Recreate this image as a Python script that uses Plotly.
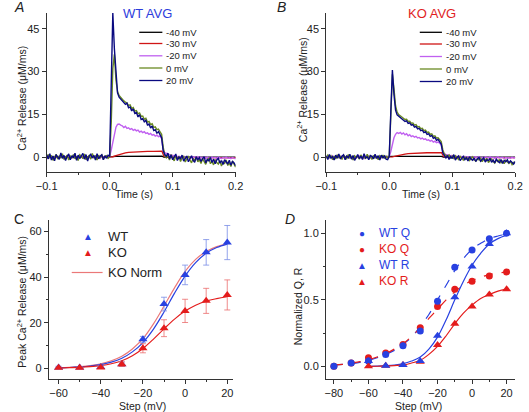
import numpy as np
import plotly.graph_objects as go

W, H = 529, 412
FONT = "Liberation Sans, Arial, sans-serif"

# ---------------- Data: panels A & B (release traces) ----------------
# dense time grid for noisy traces (s)
t_noisy = np.round(np.arange(121) * 0.0025 - 0.1, 4)
# coarse time grids for smooth traces
t_red = [-0.1, -0.05, 0, 0.005, 0.01, 0.015, 0.02, 0.025, 0.03, 0.04, 0.05, 0.06, 0.07, 0.08, 0.083, 0.086, 0.09, 0.1, 0.15, 0.2]
t_black = [-0.1, 0, 0.005, 0.01, 0.04, 0.08, 0.083, 0.086, 0.2]

wt_m40 = [0, 0, 0.2, 0.3, 0.35, 0.35, 0.35, 0.0, 0.0]
wt_m30 = [0, 0, 0, 0.15, 0.5, 0.9, 1.25, 1.5, 1.7, 1.9, 2.0, 2.05, 2.05, 2.1, 2.1, 0.4, 0.1, -0.1, -0.2, -0.25]
wt_m20 = [0.3, -0.4, 0.5, -0.2, 0.1, -0.5, 0.4, 0.0, -0.3, 0.6, -0.1, 0.3, -0.5, 0.2, 0.4, -0.3, 0.1, -0.2, 0.5, -0.4,
          0.2, -0.1, 0.4, -0.3, 0.0, 0.3, -0.5, 0.2, 0.1, -0.2, 0.4, -0.3, 0.1, 0.2, -0.4, 0.3, -0.1, 0.0, 0.2, -0.2,
          0.3, 2.5, 5.5, 8.5, 10.5, 11.5, 11.6, 11.2,
          11.0, 10.4, 10.8, 10.1, 10.3, 9.7, 10.0, 9.4, 9.7, 9.2, 9.5, 8.8, 9.1, 8.6, 8.9, 8.3, 8.5, 8.0, 8.3, 7.7, 7.9, 7.4, 7.7, 7.2, 7.4,
          6.5, 2.5, 1.6,
          1.3, 1.0, 0.9, 0.6, 0.7, 0.4, 0.5, 0.2, 0.3, 0.1, -0.1, 0.3, -0.2, 0.2, 0.0, -0.3, 0.2, -0.1, 0.1, -0.4,
          0.2, -0.2, 0.0, -0.3, 0.1, -0.4, 0.0, -0.2, -0.5, 0.1, -0.3, -0.1, -0.4, 0.0, -0.2, -0.5, -0.1, -0.3, 0.0, -0.4,
          -0.2, -0.5, -0.1, -0.3, -0.6]
wt_0 = [-0.5, 0.9, -0.2, 0.6, -1.1, 0.3, 1.0, -0.7, 0.4, -0.3, 1.2, -0.8, 0.1, 0.7, -1.0, 0.5, -0.4, 0.9, -0.6, 0.2,
        -1.2, 0.8, 0.3, -0.5, 1.1, -0.9, 0.0, 0.6, -0.7, 1.3, -0.2, 0.4, -1.0, 0.7, -0.3, 0.9, -0.8, 0.2, 0.5, -0.4,
        0.2, 12.0, 31.0, 36.0, 27.0, 23.0, 21.6, 20.9,
        20.2, 19.7, 19.3, 19.0, 18.1, 18.3, 17.0, 17.4, 16.1, 16.3, 15.2, 15.5, 14.3, 14.4, 13.3, 13.6, 12.3, 12.5, 11.4, 11.7, 10.4, 10.6, 9.6, 9.8, 8.9,
        8.0, 3.5, 0.6,
        -0.2, 0.6, -1.0, 0.9, -0.4, -1.3, 0.5, -0.8, 0.3, -1.5, -0.3, 0.2, -1.7, -0.6, 0.4, -1.0, -2.0, -0.4, -1.2, 0.0,
        -1.6, -0.9, -2.2, -0.5, -1.4, -2.5, -1.0, -0.3, -2.3, -1.5, -2.7, -0.8, -1.9, -2.4, -1.2, -3.1, -1.7, -2.2, -1.0, -2.9,
        -2.0, -3.3, -1.4, -2.6, -3.5]
wt_20 = [0.8, -0.6, 1.2, -1.0, 0.4, -1.3, 0.9, 0.2, -0.8, 1.5, -0.4, 0.6, -1.2, 0.3, 1.1, -0.9, 0.5, -0.2, 1.4, -1.1,
         0.7, -0.5, 0.2, 1.3, -0.7, 0.9, -1.4, 0.4, 1.0, -0.3, 0.6, -1.0, 1.2, -0.6, 0.3, 0.8, -0.9, 0.5, -0.4, 0.7,
         0.4, 25.0, 50.5, 38.0, 28.0, 22.5, 21.0, 20.4,
         19.6, 19.0, 18.5, 18.9, 17.3, 17.6, 16.2, 16.9, 15.3, 15.6, 14.1, 14.9, 13.2, 13.5, 12.4, 12.9, 11.3, 11.6, 10.2, 10.9, 9.3, 9.6, 8.4, 8.9, 7.8,
         6.8, 2.2, 0.9,
         0.3, 1.4, -0.6, 0.8, -0.9, 0.2, 1.1, -1.2, 0.0, -0.5, 0.7, -1.4, -0.2, 0.4, -1.6, -0.3, 0.5, -1.1, -1.8, 0.1,
         -0.9, -0.2, -1.5, -0.6, 0.2, -2.0, -0.8, -1.3, -0.1, -1.9, -0.7, -2.3, -1.0, -0.4, -2.1, -1.2, -2.6, -0.9, -1.6, -2.4,
         -1.1, -2.8, -1.5, -2.0, -3.0]

ko_m40 = [0, 0, 0.15, 0.25, 0.3, 0.3, 0.3, 0.0, 0.0]
ko_m30 = [0, 0, 0, 0.1, 0.35, 0.65, 0.9, 1.1, 1.25, 1.4, 1.5, 1.55, 1.55, 1.6, 1.6, 0.3, 0.1, -0.05, -0.1, -0.15]
ko_m20 = [-0.2, 0.4, -0.3, 0.1, 0.5, -0.4, 0.2, -0.1, 0.3, -0.5, 0.4, 0.0, -0.3, 0.2, -0.2, 0.5, -0.4, 0.1, 0.3, -0.3,
          0.0, 0.4, -0.2, 0.2, -0.5, 0.3, -0.1, 0.4, -0.3, 0.1, -0.2, 0.5, -0.4, 0.0, 0.3, -0.2, 0.1, -0.3, 0.2, 0.0,
          0.2, 2.0, 4.5, 6.8, 8.0, 8.6, 8.3, 8.7,
          8.1, 8.5, 7.8, 8.2, 7.5, 7.9, 7.2, 7.5, 7.0, 7.3, 6.7, 6.9, 6.4, 6.7, 6.2, 6.4, 5.9, 6.1, 5.6, 5.9, 5.3, 5.6, 5.1, 5.3, 4.9,
          4.3, 1.8, 1.2,
          1.0, 0.8, 0.7, 0.5, 0.6, 0.3, 0.4, 0.2, 0.3, 0.0, 0.2, -0.1, 0.3, -0.2, 0.1, 0.0, -0.3, 0.2, -0.1, 0.1,
          -0.3, 0.2, -0.2, 0.0, -0.4, 0.1, -0.1, -0.3, 0.2, -0.2, 0.0, -0.4, -0.1, 0.1, -0.3, -0.2, 0.0, -0.5, -0.1, -0.3,
          -0.2, -0.4, 0.0, -0.3, -0.2]
ko_0 = [-0.4, 0.7, -0.1, 0.5, -0.9, 0.4, -0.6, 0.8, -0.2, 0.3, -0.8, 0.6, 0.1, -0.5, 0.9, -0.3, 0.4, -1.0, 0.5, -0.1,
        0.3, -0.7, 0.8, -0.4, 0.2, -0.6, 1.0, -0.2, 0.4, -0.8, 0.6, -0.3, 0.2, -0.9, 0.5, -0.1, 0.7, -0.5, 0.3, -0.2,
        0.2, 12.0, 29.0, 24.0, 18.0, 15.8, 14.9, 14.5,
        14.0, 13.7, 13.2, 13.3, 12.5, 12.6, 11.9, 12.0, 11.2, 11.4, 10.6, 10.7, 10.0, 10.1, 9.3, 9.5, 8.7, 8.8, 8.0, 8.2, 7.3, 7.5, 6.7, 6.8, 6.1,
        5.5, 2.6, 1.0,
        0.6, 0.2, 0.8, -0.3, 0.4, -0.6, 0.5, -0.2, -0.8, 0.3, -0.5, -1.0, 0.0, -0.7, -0.3, -1.2, -0.4, 0.1, -0.9, -1.4,
        -0.5, -1.0, -0.2, -1.6, -0.8, -1.1, -0.4, -1.9, -1.2, -0.7, -1.5, -2.1, -1.0, -1.6, -0.8, -2.0, -1.4, -2.3, -1.1, -1.7,
        -2.2, -1.5, -2.6, -1.8, -2.0]
ko_20 = [0.5, -0.8, 0.9, -0.3, 0.2, -1.0, 0.7, -0.4, 1.1, -0.6, 0.3, 0.8, -0.9, 0.4, -0.2, 1.0, -0.7, 0.6, -1.1, 0.2,
         0.9, -0.5, 0.4, -0.8, 1.2, -0.3, 0.1, -0.9, 0.6, 0.3, -0.6, 1.0, -0.4, 0.5, -1.0, 0.7, -0.2, 0.4, -0.7, -0.9,
         0.3, 16.0, 30.5, 22.0, 16.5, 14.8, 14.3, 13.9,
         13.4, 13.1, 12.5, 12.7, 11.8, 12.0, 11.2, 11.4, 10.5, 10.8, 9.9, 10.1, 9.3, 9.5, 8.6, 8.9, 8.0, 8.2, 7.3, 7.6, 6.6, 6.9, 5.9, 6.2, 5.4,
         4.6, 1.5, 0.4,
         -0.3, 0.6, -0.8, 0.2, -0.5, 0.9, -1.0, -0.1, 0.4, -1.2, -0.4, 0.3, -0.9, -0.2, -1.3, 0.1, -0.7, -1.1, -0.3, -1.5,
         -0.6, -0.1, -1.4, -0.8, -0.2, -1.7, -0.9, -1.2, -0.4, -1.8, -1.0, -2.0, -0.7, -1.4, -1.9, -0.8, -2.2, -1.1, -1.6, -0.9,
         -2.1, -1.3, -1.8, -2.4, -1.5]

trace_labels = ["-40 mV", "-30 mV", "-20 mV", "0 mV", "20 mV"]
trace_colors = ["#000000", "#d01515", "#c060f0", "#6a8a22", "#0a0a80"]

# ---------------- Data: panel C ----------------
steps_c = [-60, -50, -40, -30, -20, -10, 0, 10, 20]
wt_peak = [0.4, 0.3, 0.6, 1.8, 12.7, 28.2, 41.0, 50.9, 55.2]
wt_err = [0.5, 0.4, 0.5, 1.0, 1.3, 3.0, 4.3, 5.6, 7.5]
ko_peak = [0.2, 0.2, 0.4, 1.8, 8.8, 17.6, 25.2, 29.6, 32.2]
ko_err = [0.3, 0.3, 0.4, 1.0, 2.0, 3.7, 5.1, 5.5, 6.6]
fit_v_c = [-60, -55, -50, -45, -40, -35, -30, -25, -20, -15, -10, -5, 0, 5, 10, 15, 20]
wt_fit_c = [0.2, 0.35, 0.6, 1.0, 1.6, 2.7, 4.4, 7.2, 11.3, 17.2, 24.7, 33.0, 40.5, 46.4, 50.5, 53.0, 54.5]
kon_fit_c = [0.25, 0.45, 0.75, 1.2, 2.0, 3.3, 5.3, 8.5, 13.0, 19.5, 27.3, 35.3, 42.5, 47.8, 51.3, 53.4, 54.8]
ko_fit_c = [0.1, 0.25, 0.4, 0.7, 1.2, 2.0, 3.3, 5.5, 8.7, 12.8, 17.3, 21.6, 25.1, 27.7, 29.5, 30.6, 31.4]

# ---------------- Data: panel D ----------------
steps_q = [-80, -70, -60, -50, -40, -30, -20, -10, 0, 10, 20]
wt_q = [0.0, 0.025, 0.04, 0.09, 0.155, 0.265, 0.49, 0.745, 0.875, 0.96, 1.0]
ko_q = [0.0, 0.025, 0.065, 0.10, 0.165, 0.29, 0.45, 0.58, 0.64, 0.68, 0.71]
steps_r = [-60, -50, -40, -30, -20, -10, 0, 10, 20]
wt_r = [0.04, 0.005, 0.01, 0.04, 0.23, 0.52, 0.75, 0.92, 1.0]
ko_r = [0.0, 0.005, 0.01, 0.035, 0.16, 0.32, 0.45, 0.54, 0.58]
fit_v_q = [-80, -75, -70, -65, -60, -55, -50, -45, -40, -35, -30, -25, -20, -15, -10, -5, 0, 5, 10, 15, 20]
wt_q_fit = [0.01, 0.015, 0.02, 0.03, 0.045, 0.065, 0.09, 0.12, 0.165, 0.22, 0.3, 0.39, 0.5, 0.61, 0.72, 0.81, 0.88, 0.925, 0.96, 0.98, 0.995]
ko_q_fit = [0.01, 0.015, 0.025, 0.035, 0.05, 0.07, 0.095, 0.13, 0.17, 0.225, 0.29, 0.36, 0.43, 0.5, 0.56, 0.61, 0.645, 0.67, 0.69, 0.70, 0.71]
fit_v_r = [-60, -55, -50, -45, -40, -35, -30, -25, -20, -15, -10, -5, 0, 5, 10, 15, 20]
wt_r_fit = [0.0, 0.002, 0.005, 0.01, 0.02, 0.04, 0.07, 0.13, 0.22, 0.35, 0.5, 0.64, 0.76, 0.85, 0.92, 0.96, 0.985]
ko_r_fit = [0.0, 0.001, 0.003, 0.006, 0.01, 0.025, 0.045, 0.09, 0.15, 0.23, 0.32, 0.4, 0.46, 0.51, 0.54, 0.565, 0.58]

BLUE = "rgb(40,65,225)"
RED = "rgb(228,28,28)"

# ---------------- Figure ----------------
fig = go.Figure()

def X(px):
    return px / W

def Y(py):
    return 1 - py / H

# Panels A and B
for xa, ya, series in [("x", "y", [wt_m40, wt_m30, wt_m20, wt_0, wt_20]),
                       ("x2", "y2", [ko_m40, ko_m30, ko_m20, ko_0, ko_20])]:
    for k, (vals, col) in enumerate(zip(series, trace_colors)):
        tt = t_black if k == 0 else (t_red if k == 1 else t_noisy)
        fig.add_trace(go.Scatter(x=tt, y=vals, mode="lines", line=dict(color=col, width=1.3 if k < 2 else 1.4),
                                 xaxis=xa, yaxis=ya, showlegend=False, hoverinfo="skip"))

# Panel C
fig.add_trace(go.Scatter(x=fit_v_c, y=kon_fit_c, mode="lines", line=dict(color="rgb(235,120,120)", width=1.2, shape="spline"),
                         xaxis="x3", yaxis="y3", showlegend=False))
fig.add_trace(go.Scatter(x=fit_v_c, y=wt_fit_c, mode="lines", line=dict(color=BLUE, width=1.2, shape="spline"),
                         xaxis="x3", yaxis="y3", showlegend=False))
fig.add_trace(go.Scatter(x=fit_v_c, y=ko_fit_c, mode="lines", line=dict(color=RED, width=1.2, shape="spline"),
                         xaxis="x3", yaxis="y3", showlegend=False))
fig.add_trace(go.Scatter(x=steps_c, y=wt_peak, mode="markers",
                         marker=dict(symbol="triangle-up", size=8, color=BLUE),
                         error_y=dict(type="data", array=wt_err, color="rgba(120,140,230,0.8)", thickness=1, width=3),
                         xaxis="x3", yaxis="y3", showlegend=False))
fig.add_trace(go.Scatter(x=steps_c, y=ko_peak, mode="markers",
                         marker=dict(symbol="triangle-up", size=8, color=RED),
                         error_y=dict(type="data", array=ko_err, color="rgba(235,110,110,0.8)", thickness=1, width=3),
                         xaxis="x3", yaxis="y3", showlegend=False))

# Panel D
fig.add_trace(go.Scatter(x=fit_v_q, y=wt_q_fit, mode="lines", line=dict(color=BLUE, width=1.2, dash="dash", shape="spline"),
                         xaxis="x4", yaxis="y4", showlegend=False))
fig.add_trace(go.Scatter(x=fit_v_q, y=ko_q_fit, mode="lines", line=dict(color=RED, width=1.2, dash="dash", shape="spline"),
                         xaxis="x4", yaxis="y4", showlegend=False))
fig.add_trace(go.Scatter(x=fit_v_r, y=wt_r_fit, mode="lines", line=dict(color=BLUE, width=1.2, shape="spline"),
                         xaxis="x4", yaxis="y4", showlegend=False))
fig.add_trace(go.Scatter(x=fit_v_r, y=ko_r_fit, mode="lines", line=dict(color=RED, width=1.2, shape="spline"),
                         xaxis="x4", yaxis="y4", showlegend=False))
fig.add_trace(go.Scatter(x=steps_q, y=ko_q, mode="markers", marker=dict(symbol="circle", size=7, color=RED),
                         xaxis="x4", yaxis="y4", showlegend=False))
fig.add_trace(go.Scatter(x=steps_q, y=wt_q, mode="markers", marker=dict(symbol="circle", size=7, color=BLUE),
                         xaxis="x4", yaxis="y4", showlegend=False))
fig.add_trace(go.Scatter(x=steps_r, y=ko_r, mode="markers", marker=dict(symbol="triangle-up", size=8, color=RED),
                         xaxis="x4", yaxis="y4", showlegend=False))
fig.add_trace(go.Scatter(x=steps_r, y=wt_r, mode="markers", marker=dict(symbol="triangle-up", size=8, color=BLUE),
                         xaxis="x4", yaxis="y4", showlegend=False))

tickfont = dict(family=FONT, size=11, color="#222")
common = dict(showline=True, linecolor="#333", linewidth=1, ticks="outside", ticklen=4, tickcolor="#333",
              showgrid=False, zeroline=False, tickfont=tickfont)

def xd(a, b):
    return [X(a), X(b)]

def yd(top, bottom):
    return [Y(bottom), Y(top)]

minor_small = dict(ticks="outside", ticklen=2, tickcolor="#333", showgrid=False)

fig.update_layout(
    width=W, height=H, margin=dict(l=0, r=0, t=0, b=0),
    paper_bgcolor="white", plot_bgcolor="white",
    xaxis=dict(domain=xd(37, 233), range=[-0.1, 0.2], tick0=-0.1, dtick=0.1, tickformat=".1f",
               minor=dict(dtick=0.05, **minor_small), anchor="y", **common),
    yaxis=dict(domain=yd(13, 172), range=[-5.2, 50.5], tick0=0, dtick=15, anchor="x", **common),
    xaxis2=dict(domain=xd(327, 523), range=[-0.1, 0.2], tick0=-0.1, dtick=0.1, tickformat=".1f",
                minor=dict(dtick=0.05, **minor_small), anchor="y2", **common),
    yaxis2=dict(domain=yd(13, 172), range=[-5.2, 50.5], tick0=0, dtick=15, anchor="x2", **common),
    xaxis3=dict(domain=xd(39.3, 230), range=[-64.6, 22.6], tick0=-60, dtick=20,
                minor=dict(dtick=10, **minor_small), anchor="y3", **common),
    yaxis3=dict(domain=yd(220, 379), range=[-4.7, 65.1], tick0=0, dtick=20,
                minor=dict(dtick=10, **minor_small), anchor="x3", **common),
    xaxis4=dict(domain=xd(326.7, 522.3), range=[-84.6, 24.6], tick0=-80, dtick=20,
                minor=dict(dtick=10, **minor_small), anchor="y4", **common),
    yaxis4=dict(domain=yd(220, 379), range=[-0.095, 1.1], tick0=0, dtick=0.5, tickformat=".1f",
                minor=dict(dtick=0.25, **minor_small), anchor="x4", **common),
    showlegend=False,
)

ann = []
shapes = []

def text(px, py, s, size=11, color="#222", angle=0, xanchor="center", italic=False):
    if italic:
        s = "<i>" + s + "</i>"
    ann.append(dict(x=X(px), y=Y(py), xref="paper", yref="paper", text=s, showarrow=False,
                    xanchor=xanchor, yanchor="middle", textangle=angle,
                    font=dict(family=FONT, size=size, color=color)))

# panel letters
text(1, 7, "A", size=14, xanchor="left", italic=True)
text(281, 7, "B", size=14, xanchor="center", italic=True)
text(1, 219, "C", size=14, xanchor="left", italic=False)
text(289, 219, "D", size=14, xanchor="center", italic=True)

# titles
text(142, 14, "WT AVG", size=13, color="rgb(45,60,220)")
text(437, 14, "KO AVG", size=13, color="rgb(225,30,30)")

# axis titles
text(128, 194, "Time (s)", size=10.5)
text(425, 194, "Time (s)", size=10.5)
text(10, 98, "Ca<sup>2+</sup> Release (μM/ms)", size=10.5, angle=-90)
text(301, 90, "Ca<sup>2+</sup> Release (μM/ms)", size=10.5, angle=-90)
text(136, 406, "Step (mV)", size=10.5)
text(423, 406, "Step (mV)", size=10.5)
text(10, 302, "Peak Ca<sup>2+</sup> Release (μM/ms)", size=10.5, angle=-90)
text(298, 306, "Normalized Q, R", size=10.5, angle=-90)

# legends A and B
rows_a = [32.3, 43.5, 55.8, 68.0, 80.5]
rows_b = [32.3, 44.0, 56.5, 69.0, 81.5]
for (x0, x1, tx, rows) in [(133, 157, 159, rows_a), (424, 447, 449, rows_b)]:
    for lab, col, ry in zip(trace_labels, trace_colors, rows):
        shapes.append(dict(type="line", xref="paper", yref="paper", x0=X(x0), x1=X(x1), y0=Y(ry), y1=Y(ry),
                           line=dict(color=col, width=1.3)))
        text(tx, ry, lab, size=9.5, xanchor="left")

# legend C
text(80, 236, "▲", size=10, color=BLUE)
text(99, 236, "WT", size=13, xanchor="left")
text(80, 253, "▲", size=10, color=RED)
text(99, 253, "KO", size=13, xanchor="left")
shapes.append(dict(type="line", xref="paper", yref="paper", x0=X(63), x1=X(95), y0=Y(272.5), y1=Y(272.5),
                   line=dict(color="rgb(235,120,120)", width=1.2)))
text(99, 272.5, "KO Norm", size=13, xanchor="left")

# legend D
legD = [("●", "WT Q", BLUE, 233.3), ("●", "KO Q", RED, 249.3), ("▲", "WT R", BLUE, 265), ("▲", "KO R", RED, 281)]
for sym, lab, col, ry in legD:
    text(364, ry, sym, size=10, color=col)
    text(380, ry, lab, size=12, color=col, xanchor="left")

fig.update_layout(annotations=ann, shapes=shapes)
fig.write_html("out.html", config={"displayModeBar": False},
               post_script="document.body.style.margin='0';document.body.style.overflow='hidden';")
